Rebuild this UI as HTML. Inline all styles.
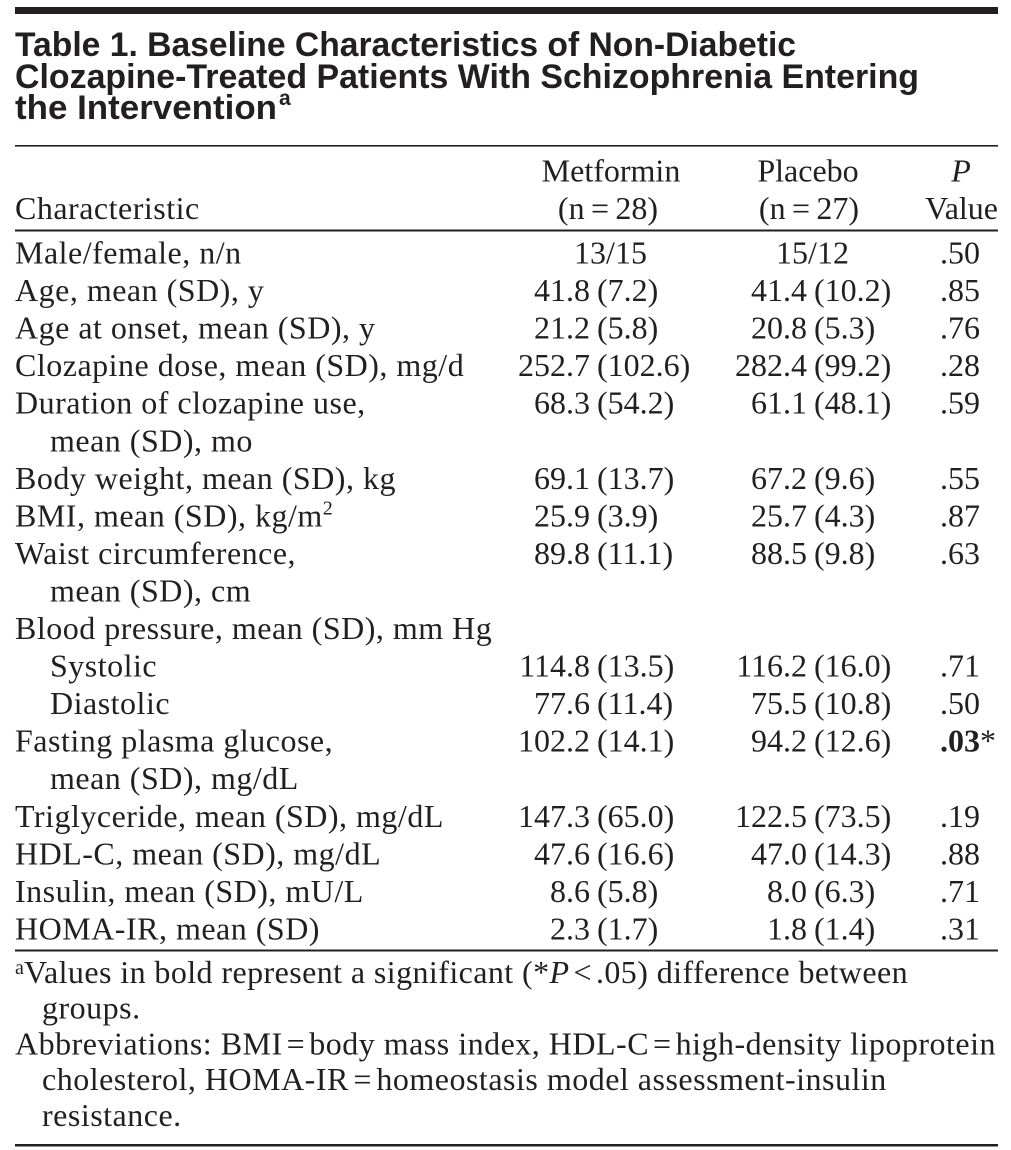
<!DOCTYPE html>
<html><head><meta charset="utf-8"><style>
html,body{margin:0;padding:0;background:#fff;}
svg{display:block;}
.t{font-family:"Liberation Sans",Arial,sans-serif;font-weight:bold;font-size:34px;fill:#231f20;}
.s{font-family:"Liberation Serif","Times New Roman",serif;font-size:32px;fill:#231f20;}
.l{letter-spacing:0.5px;}
.m{text-anchor:end;}
.c{text-anchor:middle;}
</style></head><body>
<svg width="1011" height="1150" viewBox="0 0 1011 1150" xmlns="http://www.w3.org/2000/svg">
<rect x="0" y="0" width="1011" height="1150" fill="#fff"/>
<rect x="15" y="7" width="983" height="7" fill="#231f20"/>
<text class="t" x="15" y="56" textLength="781" lengthAdjust="spacingAndGlyphs">Table 1. Baseline Characteristics of Non-Diabetic</text>
<text class="t" x="15" y="88" textLength="904" lengthAdjust="spacingAndGlyphs">Clozapine-Treated Patients With Schizophrenia Entering</text>
<text class="t" x="15" y="119" textLength="262" lengthAdjust="spacingAndGlyphs">the Intervention</text>
<text class="t" x="279" y="105" style="font-size:21px">a</text>
<rect x="15" y="145" width="983" height="1.6" fill="#231f20"/>

<!-- header -->
<text class="s c" x="611" y="181.5">Metformin</text>
<text class="s c" x="808" y="181.5">Placebo</text>
<text class="s c" x="961" y="181.5" font-style="italic">P</text>
<text class="s l" x="15" y="219">Characteristic</text>
<text class="s c" x="608" y="219">(n&#8201;=&#8201;28)</text>
<text class="s c" x="809" y="219">(n&#8201;=&#8201;27)</text>
<text class="s m" x="998" y="219">Value</text>
<rect x="15" y="229.5" width="983" height="2" fill="#231f20"/>

<!-- labels -->
<g class="s l">
<text x="15" y="263.5">Male/female, n/n</text>
<text x="15" y="301.1">Age, mean (SD), y</text>
<text x="15" y="338.6">Age at onset, mean (SD), y</text>
<text x="15" y="376.2">Clozapine dose, mean (SD), mg/d</text>
<text x="15" y="413.7">Duration of clozapine use,</text>
<text x="50" y="451.3">mean (SD), mo</text>
<text x="15" y="488.8">Body weight, mean (SD), kg</text>
<text x="15" y="526.4">BMI, mean (SD), kg/m<tspan font-size="20" dy="-12">2</tspan></text>
<text x="15" y="563.9">Waist circumference,</text>
<text x="50" y="601.5">mean (SD), cm</text>
<text x="15" y="639.0">Blood pressure, mean (SD), mm Hg</text>
<text x="50" y="676.6">Systolic</text>
<text x="50" y="714.1">Diastolic</text>
<text x="15" y="751.7">Fasting plasma glucose,</text>
<text x="50" y="789.2">mean (SD), mg/dL</text>
<text x="15" y="826.8">Triglyceride, mean (SD), mg/dL</text>
<text x="15" y="864.3">HDL-C, mean (SD), mg/dL</text>
<text x="15" y="901.9">Insulin, mean (SD), mU/L</text>
<text x="15" y="939.4">HOMA-IR, mean (SD)</text>
</g>

<!-- Metformin column -->
<g class="s">
<text class="c" x="610.5" y="263.5">13/15</text>
<text class="m" x="590" y="301.1">41.8</text><text x="597" y="301.1">(7.2)</text>
<text class="m" x="590" y="338.6">21.2</text><text x="597" y="338.6">(5.8)</text>
<text class="m" x="590" y="376.2">252.7</text><text x="597" y="376.2">(102.6)</text>
<text class="m" x="590" y="413.7">68.3</text><text x="597" y="413.7">(54.2)</text>
<text class="m" x="590" y="488.8">69.1</text><text x="597" y="488.8">(13.7)</text>
<text class="m" x="590" y="526.4">25.9</text><text x="597" y="526.4">(3.9)</text>
<text class="m" x="590" y="563.9">89.8</text><text x="597" y="563.9">(11.1)</text>
<text class="m" x="590" y="676.6">114.8</text><text x="597" y="676.6">(13.5)</text>
<text class="m" x="590" y="714.1">77.6</text><text x="597" y="714.1">(11.4)</text>
<text class="m" x="590" y="751.7">102.2</text><text x="597" y="751.7">(14.1)</text>
<text class="m" x="590" y="826.8">147.3</text><text x="597" y="826.8">(65.0)</text>
<text class="m" x="590" y="864.3">47.6</text><text x="597" y="864.3">(16.6)</text>
<text class="m" x="590" y="901.9">8.6</text><text x="597" y="901.9">(5.8)</text>
<text class="m" x="590" y="939.4">2.3</text><text x="597" y="939.4">(1.7)</text>
</g>

<!-- Placebo column -->
<g class="s">
<text class="c" x="812.5" y="263.5">15/12</text>
<text class="m" x="807" y="301.1">41.4</text><text x="814" y="301.1">(10.2)</text>
<text class="m" x="807" y="338.6">20.8</text><text x="814" y="338.6">(5.3)</text>
<text class="m" x="807" y="376.2">282.4</text><text x="814" y="376.2">(99.2)</text>
<text class="m" x="807" y="413.7">61.1</text><text x="814" y="413.7">(48.1)</text>
<text class="m" x="807" y="488.8">67.2</text><text x="814" y="488.8">(9.6)</text>
<text class="m" x="807" y="526.4">25.7</text><text x="814" y="526.4">(4.3)</text>
<text class="m" x="807" y="563.9">88.5</text><text x="814" y="563.9">(9.8)</text>
<text class="m" x="807" y="676.6">116.2</text><text x="814" y="676.6">(16.0)</text>
<text class="m" x="807" y="714.1">75.5</text><text x="814" y="714.1">(10.8)</text>
<text class="m" x="807" y="751.7">94.2</text><text x="814" y="751.7">(12.6)</text>
<text class="m" x="807" y="826.8">122.5</text><text x="814" y="826.8">(73.5)</text>
<text class="m" x="807" y="864.3">47.0</text><text x="814" y="864.3">(14.3)</text>
<text class="m" x="807" y="901.9">8.0</text><text x="814" y="901.9">(6.3)</text>
<text class="m" x="807" y="939.4">1.8</text><text x="814" y="939.4">(1.4)</text>
</g>

<!-- P values -->
<g class="s">
<text x="940" y="263.5">.50</text>
<text x="940" y="301.1">.85</text>
<text x="940" y="338.6">.76</text>
<text x="940" y="376.2">.28</text>
<text x="940" y="413.7">.59</text>
<text x="940" y="488.8">.55</text>
<text x="940" y="526.4">.87</text>
<text x="940" y="563.9">.63</text>
<text x="940" y="676.6">.71</text>
<text x="940" y="714.1">.50</text>
<text x="940" y="751.7"><tspan font-weight="bold">.03</tspan>*</text>
<text x="940" y="826.8">.19</text>
<text x="940" y="864.3">.88</text>
<text x="940" y="901.9">.71</text>
<text x="940" y="939.4">.31</text>
</g>

<rect x="15" y="949.5" width="983" height="2" fill="#231f20"/>

<!-- footnotes -->
<g class="s">
<text x="15" y="974" style="font-size:20px">a</text>
<text x="24" y="983" style="letter-spacing:0.42px">Values in bold represent a significant (*<tspan font-style="italic">P</tspan><tspan dx="4">&lt;</tspan><tspan dx="4">.05)</tspan> difference between</text>
<text x="42" y="1018.5" class="l">groups.</text>
<text x="15" y="1054.5" class="l">Abbreviations: BMI<tspan dx="4">=</tspan><tspan dx="4">body</tspan> mass index, HDL-C<tspan dx="4">=</tspan><tspan dx="4">high-density</tspan> lipoprotein</text>
<text x="42" y="1090" class="l">cholesterol, HOMA-IR<tspan dx="4.5">=</tspan><tspan dx="4.5">homeostasis</tspan> model assessment-insulin</text>
<text x="42" y="1126" class="l">resistance.</text>
</g>
<rect x="15" y="1144" width="983" height="2.5" fill="#231f20"/>
</svg>
</body></html>
